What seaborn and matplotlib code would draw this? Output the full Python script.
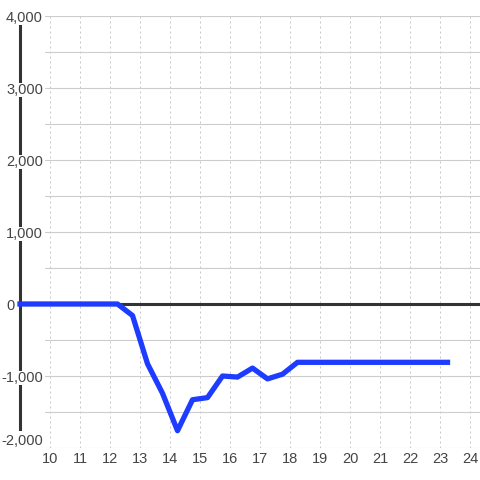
import pandas as pd
import seaborn as sns
import matplotlib.pyplot as plt
from matplotlib.ticker import FuncFormatter, MultipleLocator
from matplotlib.transforms import ScaledTranslation

# half-hourly values (hour of day, value)
hours = [9.0, 9.25, 9.75, 10.25, 10.75, 11.25, 11.75, 12.25,
         12.75, 13.25, 13.75, 14.25, 14.75, 15.25, 15.75, 16.25,
         16.75, 17.25, 17.75, 18.25, 18.75, 19.25, 19.75, 20.25,
         20.75, 21.25, 21.75, 22.25, 22.75, 23.25]
values = [0, 0, 0, 0, 0, 0, 0, 0,
          -160, -830, -1240, -1760, -1330, -1300, -1000, -1015,
          -890, -1040, -975, -810, -810, -810, -810, -810,
          -810, -810, -810, -810, -810, -810]
x_ticks = list(range(10, 25))
y_ticks = list(range(-2000, 4001, 1000))

df = pd.DataFrame({"hour": hours, "value": values})

sns.set_theme(style="whitegrid")
plt.rcParams['font.family'] = ['Liberation Sans', 'DejaVu Sans']

fig = plt.figure(figsize=(4.8, 4.8), dpi=100)
ax = fig.add_axes([45 / 480, 32 / 480, 435 / 480, 432 / 480])
ax.set_axisbelow('line')

# axis line sits at the first data hour, left of the grid
ax.axvline(hours[0], color='#333333', lw=2.2, zorder=1, clip_on=False)
ax.axhline(0, color='#333333', lw=2.2, zorder=2)
sns.lineplot(data=df, x="hour", y="value", ax=ax, color='#1e3cff', lw=3.8,
             clip_on=False, solid_capstyle='projecting', zorder=3)

ax.set_xlim(10 - 5 / 30, 10 + 430 / 30)
ax.set_ylim(-2000, 4000)
ax.set_xticks(x_ticks)
ax.set_yticks(y_ticks)
ax.yaxis.set_minor_locator(MultipleLocator(500))
ax.yaxis.set_major_formatter(FuncFormatter(lambda v, p: f"{int(v):,}"))
ax.set_xlabel("")
ax.set_ylabel("")

ax.grid(False)
ax.grid(axis='y', which='both', color='#cccccc', lw=0.8, ls='-')
ax.grid(axis='x', which='major', color='#c8c8c8', lw=0.72, ls=(0, (2, 3)))

for s in ['top', 'right', 'bottom', 'left']:
    ax.spines[s].set_visible(False)

ax.tick_params(axis='both', which='both', length=0, labelsize=10.5,
               labelcolor='#444444')
ax.tick_params(axis='y', pad=1.5)
ax.tick_params(axis='x', pad=3)

ylabels = ax.get_yticklabels()
for lab in ylabels:
    lab.set_bbox(dict(facecolor='white', edgecolor='none', pad=0))
# bottom label is lifted and hides the end of the axis line
ylabels[0].set_va('bottom')
ylabels[0].set_bbox(dict(facecolor='white', edgecolor='none', pad=2))
# the zero label sits left of the axis line
zero_lab = ylabels[y_ticks.index(0)]
zero_lab.set_transform(zero_lab.get_transform()
                       + ScaledTranslation(-0.28, 0, fig.dpi_scale_trans))

fig.savefig("out.png", dpi=100, facecolor='white')
